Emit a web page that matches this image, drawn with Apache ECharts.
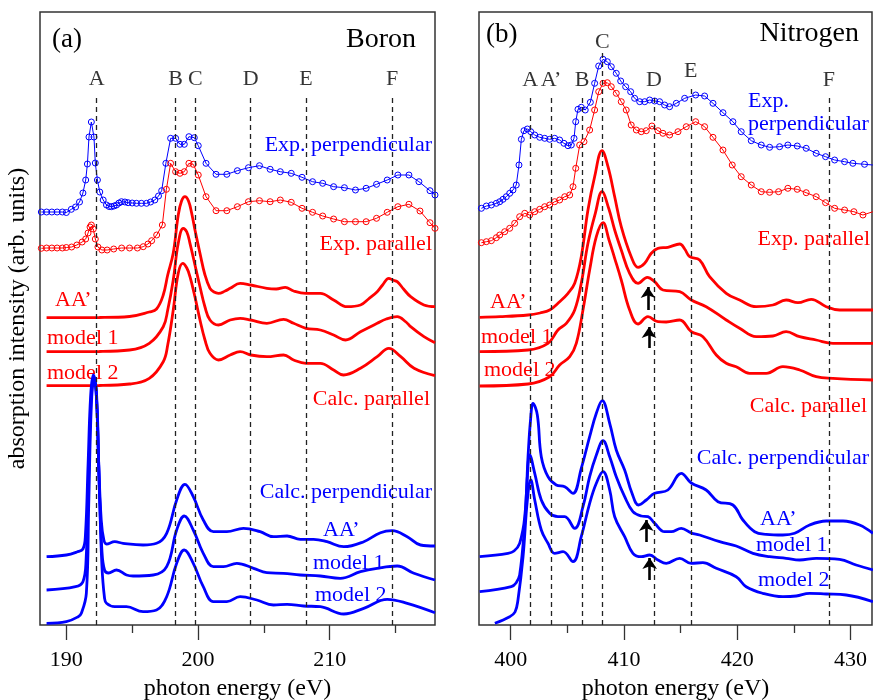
<!DOCTYPE html>
<html>
<head>
<meta charset="utf-8">
<script src="https://cdn.jsdelivr.net/npm/echarts@6.0.0/dist/echarts.min.js"></script>
<style>
  html, body { margin: 0; padding: 0; background: #fff; }
  #chart { width: 873px; height: 700px; }
</style>
</head>
<body>
<div id="chart"></div>
<script>
// energies in eV, intensities in arbitrary units (stacked offsets as in the figure)
const boronTicks = [190, 200, 210]
const boronMinorTicks = [195, 205, 215]
const nitrogenTicks = [400, 410, 420, 430]
const nitrogenMinorTicks = [405, 415, 425]

const boronLines = [192.3, 198.3, 199.8, 204.0, 208.2, 214.75]
const boronLetters = ['A', 'B', 'C', 'D', 'E', 'F']
const nitrogenLines = [401.73, 403.56, 406.3, 408.08, 412.65, 415.9, 428.1]
const nitrogenLetters = ['A', 'A’', 'B', 'C', 'D', 'E', 'F']
const nitrogenLineTops = [528, 528, 528, 572, 528, 539, 528]
const nitrogenLetterY = [545, 545, 545, 583, 545, 554, 545]

const arrowX = [412.12, 412.21, 411.97, 412.27]
const arrowFrom = [315, 277, 83, 45]
const arrowTo = [338, 298, 105, 67]

const boronExpPerp = [
  [188.1, 413], [188.5, 413], [188.9, 413], [189.3, 413], [189.7, 413], [190.0, 412.5], [190.38, 415.7],
  [190.7, 418], [191.0, 423], [191.26, 432], [191.47, 445], [191.6, 461], [191.72, 488], [191.9, 503],
  [192.1, 488], [192.2, 462], [192.36, 445], [192.54, 433], [192.8, 425], [193.05, 420], [193.25, 418.5],
  [193.43, 418.3], [193.62, 419], [193.81, 420], [194.0, 422], [194.19, 423.3], [194.45, 423], [194.69, 422.3],
  [195.0, 422], [195.33, 421.7], [195.7, 421.7], [196.09, 421.7], [196.4, 423], [196.72, 425], [197.0, 429],
  [197.24, 434.3], [197.56, 461.7], [197.92, 486.7], [198.3, 486.7], [198.63, 480.7], [198.96, 480.7],
  [199.31, 488.3], [199.72, 487.3], [200.02, 479.3], [200.61, 461.7], [201.37, 450.7], [202.19, 450.7],
  [202.99, 454.3], [203.83, 457.3], [204.67, 459.3], [205.48, 455.7], [206.25, 453.3], [207.08, 451.7],
  [207.9, 447.7], [208.7, 443.3], [209.47, 441.7], [210.3, 438.3], [211.12, 437.3], [211.96, 435],
  [212.77, 436.7], [213.56, 440.7], [214.37, 445], [215.18, 450], [216.02, 450], [216.78, 443.3],
  [217.62, 434.3], [218.0, 430]
]
const boronExpPar = [
  [188.1, 376.7], [188.5, 377], [188.9, 377], [189.3, 377], [189.7, 377], [190.0, 377.5], [190.4, 378],
  [190.8, 380], [191.2, 383], [191.47, 386], [191.65, 392], [191.8, 398], [191.9, 400], [192.05, 396],
  [192.2, 386], [192.4, 378], [192.7, 375], [193.1, 375], [193.6, 376], [194.2, 377], [194.8, 377],
  [195.4, 377], [195.84, 378.3], [196.2, 381], [196.48, 384.3], [196.86, 390], [197.29, 400], [197.6, 435.7],
  [197.92, 461.7], [198.3, 453.3], [198.63, 451.7], [198.96, 453.3], [199.31, 461.7], [199.64, 460.7],
  [200.02, 450], [200.61, 428.3], [201.37, 414.3], [202.19, 414.3], [202.99, 418.3], [203.83, 423.3],
  [204.67, 424.3], [205.48, 423.3], [206.25, 425], [207.08, 422.7], [207.9, 416.7], [208.7, 412.7],
  [209.47, 409], [210.3, 406], [211.12, 403.3], [211.96, 403.3], [212.77, 403.3], [213.56, 406.7],
  [214.37, 412.7], [215.18, 418.3], [216.02, 420.7], [216.86, 414], [217.62, 402.3], [218.0, 396.7]
]
const boronCalcParAA = [
  [188.5, 307.3], [192.5, 307.5], [194.8, 308.5], [196.3, 313], [196.85, 316], [197.36, 330], [197.7, 350],
  [198.12, 372], [198.5, 410], [198.75, 424], [199.01, 428.3], [199.28, 424], [199.52, 411.7], [199.77, 395],
  [200.15, 371.7], [200.53, 350], [200.91, 336.7], [201.22, 333], [201.55, 331.7], [202.06, 334],
  [202.44, 336.7], [203.2, 341.7], [204.01, 340], [205.23, 336.7], [205.94, 336], [206.63, 337.7],
  [207.26, 334], [208.2, 331.7], [209.29, 331.7], [210.3, 325], [211.33, 318.3], [212.34, 320],
  [212.95, 326], [213.61, 333.3], [214.02, 340], [214.49, 346.7], [214.78, 345], [215.13, 343.3],
  [215.61, 336], [216.15, 328.3], [217.16, 320], [218.0, 318.3]
]
const boronCalcParM1 = [
  [188.5, 273.3], [192.5, 273.5], [194.8, 275], [196.3, 281.7], [197.36, 298.3], [197.7, 315], [198.12, 345],
  [198.5, 381.7], [198.88, 396.7], [199.15, 393], [199.39, 381.7], [199.77, 360], [200.15, 338.3],
  [200.53, 318], [200.91, 305], [201.55, 300], [202.44, 305], [203.2, 306.7], [204.01, 305], [205.23, 301.7],
  [206.5, 305.7], [207.26, 301.7], [208.2, 296.7], [209.29, 295], [210.3, 290], [211.2, 285], [212.34, 293.3],
  [213.61, 301.7], [214.3, 306], [215.13, 308.3], [215.8, 303], [216.15, 298.3], [217.16, 288.3], [218.0, 282.3]
]
const boronCalcParM2 = [
  [188.5, 239.3], [192.5, 239.5], [194.8, 241], [196.3, 246.7], [197.36, 263.3], [197.7, 280], [198.12, 315],
  [198.5, 351.7], [198.84, 361.7], [199.15, 357], [199.39, 348.3], [199.77, 328], [200.15, 305], [200.53, 285],
  [200.91, 271.7], [201.55, 265], [202.44, 270], [203.2, 273.3], [204.01, 270], [205.23, 268.3], [206.5, 270],
  [207.26, 265], [208.2, 261.7], [209.29, 261.7], [210.3, 255], [211.05, 250], [212.34, 256.7], [213.61, 268.3],
  [214.49, 276.7], [215.4, 268.3], [216.41, 256.7], [218.0, 249.3]
]
const boronCalcPerpAA = [
  [188.5, 68.3], [190.0, 70], [190.8, 73], [191.26, 76], [191.45, 90], [191.65, 160], [191.85, 230],
  [192.05, 250], [192.25, 236], [192.45, 165], [192.65, 105], [192.85, 85], [193.05, 81], [193.68, 83.3],
  [194.31, 81.7], [195.83, 80], [196.85, 81.7], [197.62, 91.7], [198.38, 125], [199.01, 140.7],
  [199.64, 128.3], [200.4, 105], [201.17, 93.3], [202.19, 93.3], [203.45, 96.7], [204.72, 93.3],
  [205.73, 88.3], [206.76, 89], [207.77, 85.7], [208.78, 85.7], [209.8, 83.3], [211.07, 78.3],
  [212.59, 83.3], [213.86, 92.3], [214.75, 94.3], [215.89, 88.3], [216.9, 80], [218.0, 79]
]
const boronCalcPerpM1 = [
  [188.5, 35], [190.7, 38.3], [191.26, 43.3], [191.5, 65], [191.7, 150], [191.9, 230], [192.1, 248],
  [192.3, 225], [192.5, 140], [192.7, 75], [192.9, 55], [193.2, 52], [193.81, 55], [194.57, 50], [195.07, 49],
  [196.6, 50], [197.62, 58.3], [198.38, 95], [198.96, 109], [199.64, 95], [200.4, 71.7], [201.17, 58.3],
  [201.93, 58.3], [202.95, 61.7], [204.22, 56.7], [205.23, 52.3], [206.5, 51.7], [207.77, 50], [209.29, 49],
  [210.8, 46.7], [212.34, 53.3], [213.6, 56.7], [215.13, 59], [216.4, 51.7], [218.0, 45]
]
const boronCalcPerpM2 = [
  [188.5, 1.7], [190.0, 3.3], [190.9, 8.3], [191.14, 11.7], [191.52, 31.7], [191.7, 120], [191.9, 220],
  [192.1, 246], [192.3, 230], [192.5, 140], [192.7, 60], [192.9, 27], [193.05, 21.7], [193.68, 18.3],
  [194.57, 18.3], [195.83, 13.3], [196.85, 15], [197.62, 28.3], [198.38, 61.7], [198.96, 75], [199.64, 61.7],
  [200.4, 38.3], [201.17, 23.3], [202.19, 23.3], [203.2, 28.3], [204.47, 25], [205.73, 20], [206.76, 20.7],
  [208.02, 19], [209.29, 18.3], [211.07, 11], [212.59, 16.7], [214.37, 25.7], [215.89, 21.7], [218.0, 12.3]
]

const nitrogenExpPerp = [
  [397.41, 416.7], [397.85, 419], [398.29, 420], [398.73, 421.7], [399.03, 423.3], [399.32, 425.7],
  [399.61, 428.3], [399.91, 431.7], [400.2, 435], [400.49, 440], [400.73, 460], [400.94, 485.7],
  [401.17, 494.3], [401.47, 496], [401.77, 493.3], [402.12, 490], [402.56, 487.7], [403.0, 486.7],
  [403.44, 485.7], [403.88, 486.7], [404.32, 485], [404.7, 481.7], [405.06, 479.3], [405.35, 480],
  [405.59, 486.7], [405.74, 503.3], [405.94, 515.7], [406.23, 517.7], [406.58, 515], [407.03, 522.7],
  [407.41, 541.7], [407.77, 559], [408.15, 565.7], [408.53, 563.3], [408.88, 558.3], [409.32, 551.7],
  [409.71, 544], [410.15, 538.3], [410.59, 533.3], [410.94, 526.7], [411.39, 523.3], [411.83, 523.3],
  [412.27, 525], [412.71, 524], [413.15, 523.3], [413.59, 520], [414.03, 518.3], [414.62, 521.7],
  [415.36, 526.7], [416.33, 530], [417.12, 529], [417.86, 521.7], [418.74, 512.3], [419.62, 503.3],
  [420.35, 493.3], [421.24, 484.3], [422.12, 480], [422.86, 477.7], [423.74, 478.3], [424.47, 480],
  [425.3, 479], [426.09, 476.7], [426.97, 471.7], [427.8, 468.3], [428.6, 465], [429.48, 463.3],
  [430.21, 461.7], [431.24, 460.7], [431.98, 460]
]
const nitrogenExpPar = [
  [397.41, 382.3], [397.85, 383.3], [398.29, 384.3], [398.73, 387.3], [399.03, 390], [399.47, 393.3],
  [399.91, 396.7], [400.35, 401.7], [400.79, 408.3], [401.24, 411.7], [401.68, 410], [402.12, 413.3],
  [402.56, 415.7], [403.0, 418.3], [403.44, 420], [403.88, 423.3], [404.32, 425], [404.77, 428.3],
  [405.21, 430], [405.5, 438.3], [405.74, 456.7], [406.09, 480], [406.47, 483.3], [406.97, 495],
  [407.41, 515], [407.77, 533.3], [408.15, 541.7], [408.53, 542.3], [408.88, 538.3], [409.32, 531.7],
  [409.76, 523.3], [410.2, 515], [410.64, 500], [411.09, 495], [411.53, 493.3], [411.97, 494.3],
  [412.47, 499], [413.0, 494.3], [413.44, 491.7], [414.03, 490], [414.77, 493.3], [415.5, 498.3],
  [416.33, 503.3], [417.12, 498.3], [417.86, 487.7], [418.74, 475], [419.56, 460], [420.35, 448.3],
  [421.24, 440], [422.12, 433.3], [422.86, 432.7], [423.65, 433.3], [424.47, 436.7], [425.3, 435.7],
  [426.09, 432.3], [426.97, 428.3], [427.8, 422.3], [428.6, 416.7], [429.48, 415], [430.3, 413.3],
  [431.1, 410], [431.98, 413.3]
]
const nitrogenCalcParAA = [
  [397.26, 307.7], [399.06, 308.3], [401.53, 310], [402.59, 312], [403.44, 315], [404.32, 323.3],
  [405.06, 331.7], [405.65, 341.7], [406.23, 368.3], [406.82, 415], [407.41, 448.3], [408.06, 474.3],
  [408.59, 458.3], [409.18, 428.3], [409.76, 398.3], [410.64, 368.3], [411.24, 357.7], [411.83, 361.7],
  [412.41, 371.7], [413.0, 376.7], [413.88, 377.7], [414.92, 381], [415.36, 376], [415.8, 368.3],
  [416.68, 365], [417.56, 348.3], [419.03, 331.7], [420.21, 325], [421.68, 318.3], [423.15, 320],
  [424.32, 325], [425.36, 322.3], [426.53, 325.7], [427.86, 318.3], [429.04, 315], [432.0, 315]
]
const nitrogenCalcParM1 = [
  [397.26, 273.3], [401.53, 275], [403.29, 281.7], [404.17, 295], [404.91, 301.7], [405.65, 315],
  [406.23, 341.7], [406.82, 381.7], [407.47, 411.7], [408.06, 433.3], [408.65, 416.7], [409.18, 395],
  [409.76, 375], [410.5, 351.7], [411.24, 341.7], [412.06, 347.7], [412.71, 343.3], [413.44, 335],
  [414.92, 333.3], [415.94, 325], [417.26, 318.3], [419.03, 305], [420.21, 296.7], [421.68, 288.3],
  [423.15, 289], [424.32, 293.3], [425.51, 288.3], [426.97, 285], [428.45, 281.7], [432.0, 281.7]
]
const nitrogenCalcParM2 = [
  [397.26, 239], [401.53, 241], [403.44, 248.3], [404.32, 260], [405.21, 268.3], [405.79, 281.7],
  [406.38, 315], [406.97, 355], [407.56, 388.3], [408.15, 402.3], [408.68, 385], [409.18, 366.7],
  [409.76, 345], [410.5, 315], [411.24, 301], [412.12, 308.3], [413.0, 303.3], [413.73, 303], [414.92, 305],
  [415.94, 293.3], [416.97, 288.3], [418.15, 270], [419.03, 261.7], [419.91, 258.3], [421.09, 251.7],
  [422.56, 251.7], [424.03, 258.3], [425.51, 255], [426.97, 248.3], [428.45, 246.7], [432.0, 245]
]
const nitrogenCalcPerpAA = [
  [397.26, 68.3], [399.76, 71.7], [400.29, 74], [400.79, 81.7], [401.24, 108.3], [401.53, 168.3],
  [401.75, 205], [401.97, 221.7], [402.35, 210], [402.7, 168.3], [403.29, 148.3], [404.02, 140],
  [404.77, 138.3], [405.5, 131.7], [406.23, 156.7], [406.97, 188.3], [407.56, 211.7], [408.08, 224.3],
  [408.74, 201.7], [409.32, 175], [410.06, 155], [410.71, 131.7], [411.3, 120], [411.97, 125],
  [412.71, 131.7], [413.88, 135], [415.06, 151.7], [415.94, 142], [417.26, 135], [418.3, 123.3],
  [419.62, 120], [420.5, 105], [421.54, 93.3], [422.56, 90.7], [424.03, 90], [425.07, 91.7],
  [426.39, 100], [427.86, 104], [429.34, 104], [430.8, 100], [431.98, 91.7]
]
const nitrogenCalcPerpM1 = [
  [397.26, 33.3], [400.05, 38.3], [400.47, 42], [400.79, 50], [401.24, 101.7], [401.48, 150], [401.68, 170],
  [402.12, 151.7], [402.7, 125], [403.44, 111.7], [404.17, 108.3], [404.77, 108.3], [405.65, 96.7],
  [406.38, 118.3], [406.97, 148.3], [407.56, 170], [408.15, 184.3], [408.74, 168.3], [409.32, 148.3],
  [410.06, 128.3], [410.79, 113.3], [411.53, 109], [412.12, 108.3], [412.71, 101.7], [413.59, 93.3],
  [414.17, 93.3], [415.06, 96.7], [415.94, 92], [416.68, 90], [418.45, 83.3], [419.91, 79], [421.39, 71.7],
  [422.86, 68.3], [424.32, 66.7], [425.51, 65], [426.97, 66.7], [429.04, 65.7], [430.5, 60], [431.98, 55]
]
const nitrogenCalcPerpM2 = [
  [398.6, 1.7], [399.91, 8.3], [400.38, 13], [400.64, 25], [401.09, 68.3], [401.47, 125], [401.77, 145],
  [402.12, 125], [402.7, 95], [403.29, 81.7], [403.88, 71.7], [404.62, 73.3], [405.5, 63.3], [406.23, 88.3],
  [406.97, 121.7], [407.56, 141.7], [408.15, 153.3], [408.74, 135], [409.18, 108.3], [410.06, 88.3],
  [410.79, 71.7], [411.53, 68.3], [412.27, 70], [413.0, 65], [413.73, 61.7], [414.92, 66.7], [415.94, 61.7],
  [416.97, 62.3], [418.15, 56.7], [419.91, 48.3], [420.79, 38.3], [422.26, 31.7], [424.03, 28.3],
  [425.21, 29], [426.39, 31.7], [427.86, 31], [429.62, 30], [431.98, 23.3]
]

const FONT = '"Liberation Serif", "DejaVu Serif", serif'
const BLUE = '#0000ff'
const RED = '#ff0000'

function expSeries(data, color, xi, yi) {
  return {
    type: 'line', data, xAxisIndex: xi, yAxisIndex: yi,
    symbol: 'circle', symbolSize: 6, showSymbol: true,
    lineStyle: { color, width: 1 },
    itemStyle: { color: 'rgba(0,0,0,0)', borderColor: color, borderWidth: 1 },
    z: 3
  }
}

function calcSeries(data, color, xi, yi) {
  return {
    type: 'line', data, xAxisIndex: xi, yAxisIndex: yi,
    smooth: 0.4, showSymbol: false, symbol: 'none',
    lineStyle: { color, width: 2.8 },
    z: 3
  }
}

function dashedLines(xs, tops) {
  return {
    silent: true, symbol: 'none', animation: false,
    label: { show: false },
    lineStyle: { type: [5, 4], color: '#222', width: 1.3 },
    data: xs.map((x, i) => [{ coord: [x, 0] }, { coord: [x, tops[i]] }])
  }
}

function letterSeries(xs, names, ys, xi, yi) {
  return {
    type: 'scatter', xAxisIndex: xi, yAxisIndex: yi, symbolSize: 0, silent: true,
    label: { show: true, position: 'inside', formatter: '{b}', color: '#000', fontSize: 22, fontFamily: FONT },
    data: xs.map((x, i) => ({ name: names[i], value: [x, ys[i]] }))
  }
}

function xAxes(gridIndex, min, max, ticks, minor) {
  return [
    {
      type: 'value', gridIndex, min, max, position: 'bottom',
      axisLine: { show: false }, splitLine: { show: false },
      axisTick: { show: true, inside: false, length: 15, customValues: ticks, lineStyle: { color: '#333', width: 1.3 } },
      axisLabel: { show: true, customValues: ticks, margin: 24, color: '#000', fontSize: 22, fontFamily: FONT },
      name: 'photon energy (eV)', nameLocation: 'middle', nameGap: 52,
      nameTextStyle: { color: '#000', fontSize: 24, fontFamily: FONT }
    },
    {
      type: 'value', gridIndex, min, max, position: 'bottom',
      axisLine: { show: false }, splitLine: { show: false }, axisLabel: { show: false },
      axisTick: { show: true, inside: false, length: 8, customValues: minor, lineStyle: { color: '#333', width: 1.3 } }
    }
  ]
}

function txt(text, x, y, color, align, size) {
  return {
    type: 'text', x, y, silent: true,
    style: { text, fill: color, align, verticalAlign: 'middle', font: `${size || 22}px ${FONT}` }
  }
}

const chart = echarts.init(document.getElementById('chart'), null, { renderer: 'canvas' })

const arrowLines = {
  silent: true, animation: false,
  symbol: ['none', 'arrow'], symbolSize: 11,
  label: { show: false },
  lineStyle: { type: 'solid', color: '#000', width: 2.6 },
  data: arrowX.map((x, i) => [{ coord: [x, arrowFrom[i]] }, { coord: [x, arrowTo[i]] }])
}

const bPerp = expSeries(boronExpPerp, BLUE, 0, 0)
bPerp.markLine = dashedLines(boronLines, boronLines.map(() => 528))
const nPerp = expSeries(nitrogenExpPerp, BLUE, 2, 1)
nPerp.markLine = dashedLines(nitrogenLines, nitrogenLineTops)
const nParAA = calcSeries(nitrogenCalcParAA, RED, 2, 1)
nParAA.markLine = arrowLines

const gridBase = {
  top: 12, height: 613, show: true, borderColor: '#333', borderWidth: 1.5,
  backgroundColor: 'transparent', containLabel: false, outerBoundsMode: 'none'
}

chart.setOption({
  animation: false,
  backgroundColor: '#fff',
  textStyle: { fontFamily: FONT },
  grid: [
    Object.assign({ left: 40, width: 395 }, gridBase),
    Object.assign({ left: 479, width: 393 }, gridBase)
  ],
  xAxis: [
    ...xAxes(0, 188, 218, boronTicks, boronMinorTicks),
    ...xAxes(1, 397.2, 431.9, nitrogenTicks, nitrogenMinorTicks)
  ],
  yAxis: [
    {
      type: 'value', gridIndex: 0, min: 0, max: 613,
      axisLine: { show: false }, axisTick: { show: false }, axisLabel: { show: false }, splitLine: { show: false },
      name: 'absorption intensity (arb. units)', nameLocation: 'middle', nameGap: 10, nameRotate: 90,
      nameTextStyle: { color: '#000', fontSize: 24, fontFamily: FONT }
    },
    {
      type: 'value', gridIndex: 1, min: 0, max: 613,
      axisLine: { show: false }, axisTick: { show: false }, axisLabel: { show: false }, splitLine: { show: false }
    }
  ],
  series: [
    bPerp,
    expSeries(boronExpPar, RED, 0, 0),
    calcSeries(boronCalcParAA, RED, 0, 0),
    calcSeries(boronCalcParM1, RED, 0, 0),
    calcSeries(boronCalcParM2, RED, 0, 0),
    calcSeries(boronCalcPerpAA, BLUE, 0, 0),
    calcSeries(boronCalcPerpM1, BLUE, 0, 0),
    calcSeries(boronCalcPerpM2, BLUE, 0, 0),
    letterSeries(boronLines, boronLetters, boronLines.map(() => 546), 0, 0),
    nPerp,
    expSeries(nitrogenExpPar, RED, 2, 1),
    nParAA,
    calcSeries(nitrogenCalcParM1, RED, 2, 1),
    calcSeries(nitrogenCalcParM2, RED, 2, 1),
    calcSeries(nitrogenCalcPerpAA, BLUE, 2, 1),
    calcSeries(nitrogenCalcPerpM1, BLUE, 2, 1),
    calcSeries(nitrogenCalcPerpM2, BLUE, 2, 1),
    letterSeries(nitrogenLines, nitrogenLetters, nitrogenLetterY, 2, 1)
  ],
  graphic: [
    txt('(a)', 52, 40, '#000', 'left', 27),
    txt('Boron', 416, 40, '#000', 'right', 28),
    txt('Exp. perpendicular', 432, 145, BLUE, 'right'),
    txt('Exp. parallel', 432, 244, RED, 'right'),
    txt('AA’', 55, 300, RED, 'left'),
    txt('model 1', 47, 338, RED, 'left'),
    txt('model 2', 47, 373, RED, 'left'),
    txt('Calc. parallel', 430, 399, RED, 'right'),
    txt('Calc. perpendicular', 432, 492, BLUE, 'right'),
    txt('AA’', 323, 530, BLUE, 'left'),
    txt('model 1', 313, 563, BLUE, 'left'),
    txt('model 2', 315, 595, BLUE, 'left'),
    txt('(b)', 486, 35, '#000', 'left', 27),
    txt('Nitrogen', 859, 34, '#000', 'right', 28),
    txt('Exp.', 748, 101, BLUE, 'left'),
    txt('perpendicular', 748, 124, BLUE, 'left'),
    txt('Exp. parallel', 870, 239, RED, 'right'),
    txt('AA’', 490, 302, RED, 'left'),
    txt('model 1', 481, 337, RED, 'left'),
    txt('model 2', 484, 370, RED, 'left'),
    txt('Calc. parallel', 867, 406, RED, 'right'),
    txt('Calc. perpendicular', 869, 458, BLUE, 'right'),
    txt('AA’', 760, 519, BLUE, 'left'),
    txt('model 1', 756, 545, BLUE, 'left'),
    txt('model 2', 758, 580, BLUE, 'left')
  ]
})
</script>
</body>
</html>
